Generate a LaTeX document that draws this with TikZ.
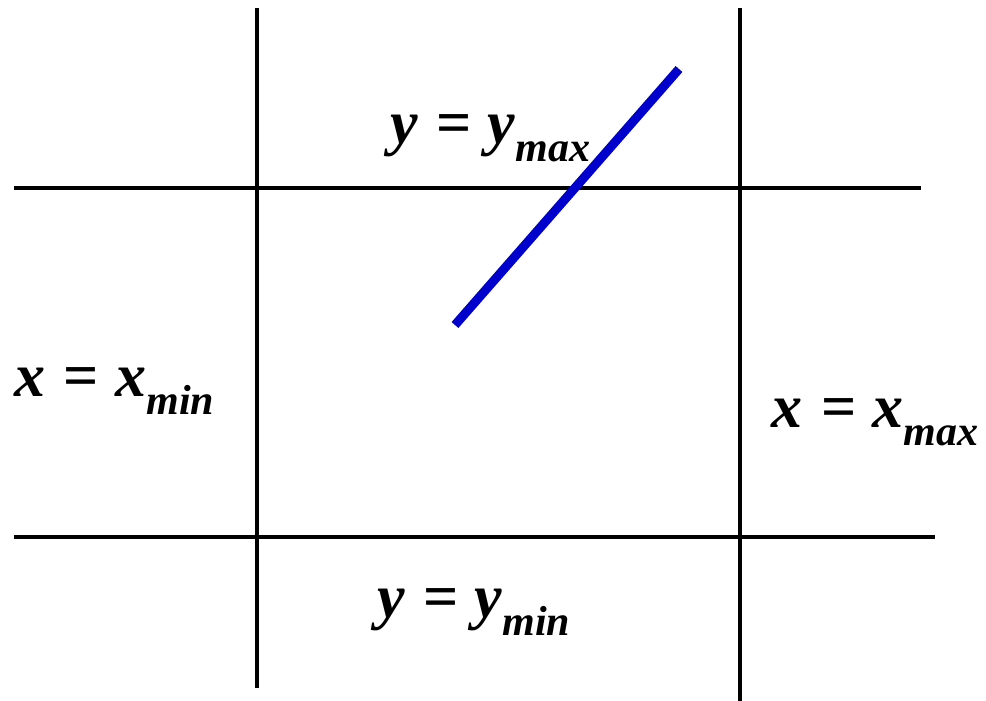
\documentclass[tikz,border=0pt]{standalone}
\usepackage{fontspec}
\setmainfont{Liberation Serif}
\definecolor{lineblue}{RGB}{0,0,205}
\newcommand{\eqlab}[3]{{\fontsize{62}{62}\selectfont\bfseries\itshape #1\hspace{19pt}{\upshape =}\hspace{16pt}#2\raisebox{-18pt}{\fontsize{42}{42}\selectfont #3}}}
\begin{document}
\begin{tikzpicture}[x=1pt,y=-1pt,
  grid/.style={line width=4.5pt,black},
  seg/.style={line width=9pt,lineblue},
  lab/.style={anchor=base west,inner sep=0pt,outer sep=0pt}]
\useasboundingbox (0,0) rectangle (986,701);
\coordinate (v1t) at (257,8);   \coordinate (v1b) at (257,688);
\coordinate (v2t) at (740,8);   \coordinate (v2b) at (740,701);
\coordinate (h1l) at (14,188);  \coordinate (h1r) at (921,188);
\coordinate (h2l) at (14,537);  \coordinate (h2r) at (935,537);
\draw[grid] (v1t) -- (v1b);
\draw[grid] (v2t) -- (v2b);
\draw[grid] (h1l) -- (h1r);
\draw[grid] (h2l) -- (h2r);
\coordinate (sa) at (455,325);
\coordinate (sb) at (679,69);
\draw[seg] (sa) -- (sb);
\node[lab] (ymax) at (390,143) {\eqlab{y}{y}{max}};
\node[lab] (xmin) at (14,396) {\eqlab{x}{x}{min}};
\node[lab] (xmax) at (771,427) {\eqlab{x}{x}{max}};
\node[lab] (ymin) at (377,617) {\eqlab{y}{y}{min}};
\end{tikzpicture}
\end{document}
